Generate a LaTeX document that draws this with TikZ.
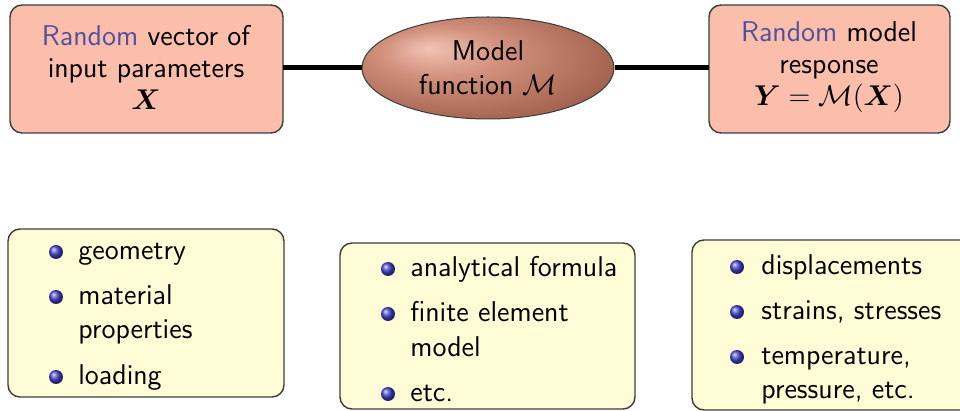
\documentclass[tikz,border=0pt]{standalone}
\usepackage{fix-cm}
\usepackage{amsmath,amssymb,bm}
\usepackage{fontspec}
\usetikzlibrary{shapes.geometric,shadings}
\definecolor{salmon}{RGB}{250,190,170}
\definecolor{paleyel}{RGB}{255,252,214}
\definecolor{edgegray}{RGB}{60,60,60}
\definecolor{structblue}{RGB}{80,80,160}
\definecolor{bulblue}{RGB}{70,70,215}
\definecolor{mbA}{RGB}{242,195,180}
\definecolor{mbB}{RGB}{210,145,125}
\definecolor{mbC}{RGB}{165,100,80}
\definecolor{mbD}{RGB}{110,58,42}
\pgfdeclareradialshading{modelball}{\pgfpoint{-12bp}{10bp}}{%
  color(0bp)=(mbA); color(12bp)=(mbB); color(30bp)=(mbC); color(50bp)=(mbD)}
\tikzset{
  topbox/.style={draw=edgegray, line width=0.7pt, fill=salmon, rounded corners=6pt, inner sep=0pt},
  lowbox/.style={draw=edgegray, line width=0.7pt, fill=paleyel, rounded corners=6pt, inner sep=0pt},
  txt/.style={font=\sffamily\fontsize{14.3}{16}\selectfont, inner sep=0pt},
  itm/.style={font=\sffamily\fontsize{14.3}{16}\selectfont, inner sep=0pt, anchor=base west},
  bul/.style={circle, inner sep=0pt, minimum size=7pt, shading=ball, ball color=bulblue},
  link/.style={line width=2.5pt, black},
}
\newcommand{\rnd}{\textcolor{structblue}{Random}}
\begin{document}
\begin{tikzpicture}[x=0.5pt,y=-0.5pt]
\useasboundingbox (0,0) rectangle (960,411);
% top boxes
\draw[topbox] (10,5) rectangle (283,133);
\coordinate (inR) at (283,68);
\draw[topbox] (709,5) rectangle (950,133);
\coordinate (outL) at (709,68);
\node[txt, align=center] (intxt) at (146,67) {\rnd{} vector of\\input parameters\\$\bm{X}$};
\node[txt, align=center] (outtxt) at (829,67) {\rnd{} model\\response\\$\bm{Y}=\mathcal{M}(\bm{X})$};
% model ellipse
\node[ellipse, draw=edgegray, line width=0.5pt, minimum width=126pt, minimum height=51pt, shading=modelball, inner sep=0pt] (model) at (488,68) {};
\node[txt, align=center, font=\sffamily\fontsize{14.3}{17}\selectfont] (modtxt) at (488,68) {Model\\function $\mathcal{M}$};
\draw[link] (inR) -- (model.west);
\draw[link] (model.east) -- (outL);
% lower boxes
\draw[lowbox] (8,229) rectangle (284,397);
\draw[lowbox] (340,243) rectangle (635,409);
\draw[lowbox] (692,240) rectangle (980,410);
% left list
\node[bul] (b1) at (56,252) {};
\node[itm] (t1) at (78,260) {geometry};
\node[bul] (b2) at (56,297) {};
\node[itm] (t2) at (78,305) {material};
\node[itm] (t2b) at (78,339) {properties};
\node[bul] (b3) at (56,377) {};
\node[itm] (t3) at (78,385) {loading};
% middle list
\node[bul] (m1) at (388,269) {};
\node[itm] (u1) at (410,277) {analytical formula};
\node[bul] (m2) at (388,314) {};
\node[itm] (u2) at (410,322) {finite element};
\node[itm] (u2b) at (410,357) {model};
\node[bul] (m3) at (388,394) {};
\node[itm] (u3) at (410,402) {etc.};
% right list
\node[bul] (r1) at (737,267) {};
\node[itm] (v1) at (761,275) {displacements};
\node[bul] (r2) at (737,312) {};
\node[itm] (v2) at (761,320) {strains, stresses};
\node[bul] (r3) at (737,357) {};
\node[itm] (v3) at (761,365) {temperature,};
\node[itm] (v3b) at (761,399) {pressure, etc.};
\end{tikzpicture}
\end{document}
